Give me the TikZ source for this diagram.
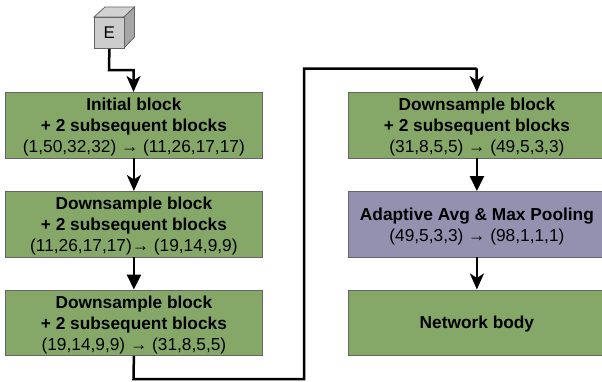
\documentclass[tikz,border=0pt]{standalone}
\usepackage{fontspec}
\setmainfont{Liberation Sans}
\usetikzlibrary{arrows.meta}
\definecolor{gbox}{HTML}{85A868}
\definecolor{pbox}{HTML}{9490B0}
\definecolor{bedge}{HTML}{666666}
\tikzset{x=1pt,y=-1pt,
  blockbox/.style={draw=bedge,line width=0.8pt,minimum width=257pt,minimum height=65.5pt,inner sep=0pt,align=center,anchor=north west,font=\fontsize{17.3pt}{21pt}\selectfont,text=black},
  greenbox/.style={blockbox,fill=gbox},
  purplebox/.style={blockbox,fill=pbox},
  wire/.style={line width=2.5pt,black,-{Stealth[length=16pt,width=14pt,inset=4.5pt]}},
  wirefull/.style={line width=2.5pt,black,-{Triangle[length=15pt,width=14pt]}}}
\newcommand{\hd}[1]{\textbf{#1}}
\newcommand{\lft}{\rule{0pt}{16.6pt}}
\begin{document}
\begin{tikzpicture}
\useasboundingbox (0,0) rectangle (602,381);
\node[greenbox] (a) at (5,92) {\lft\hd{Initial block}\\\hd{+ 2 subsequent blocks}\\(1,50,32,32) → (11,26,17,17)};
\node[greenbox] (b) at (5,191) {\lft\hd{Downsample block}\\\hd{+ 2 subsequent blocks}\\(11,26,17,17)→ (19,14,9,9)};
\node[greenbox] (c) at (5,289.5) {\lft\hd{Downsample block}\\\hd{+ 2 subsequent blocks}\\(19,14,9,9) → (31,8,5,5)};
\node[greenbox] (d) at (348,92) {\lft\hd{Downsample block}\\\hd{+ 2 subsequent blocks}\\(31,8,5,5) → (49,5,3,3)};
\node[purplebox] (e) at (348,191) {\lft\hd{Adaptive Avg \& Max Pooling}\\(49,5,3,3) → (98,1,1,1)};
\node[greenbox] (f) at (348,289.5) {\rule{0pt}{14.6pt}\hd{Network body}};
% cube
\fill[fill=gray!35,draw=bedge,line width=0.8pt] (94,17) -- (105,7) -- (134.5,7) -- (124,17) -- cycle;
\fill[fill=gray!70,draw=bedge,line width=0.8pt] (124,17) -- (134.5,7) -- (134.5,37) -- (124,48) -- cycle;
\node[draw=bedge,fill=gray!40,line width=0.8pt,minimum width=30pt,minimum height=31pt,inner sep=0pt,anchor=north west,font=\fontsize{17pt}{19pt}\selectfont] (cube) at (94,17) {E};
\coordinate (k1) at (109,70);
\coordinate (k2) at (133.5,70);
\coordinate (k3) at (133.5,379);
\coordinate (k4) at (304,379);
\coordinate (k5) at (304,68.5);
\coordinate (k6) at (476.5,68.5);
\draw[wire] (cube.south) -- (k1) -- (k2) -- (k2 |- a.north);
\draw[wire] (a) -- (b);
\draw[wirefull] (b) -- (c);
\draw[wire,-] (c.south) -- (k3) -- (k4) -- (k5) -- (k6);
\draw[wire] (k6) -- (d.north);
\draw[wirefull] (d) -- (e);
\draw[wire] (e) -- (f);
\end{tikzpicture}
\end{document}
